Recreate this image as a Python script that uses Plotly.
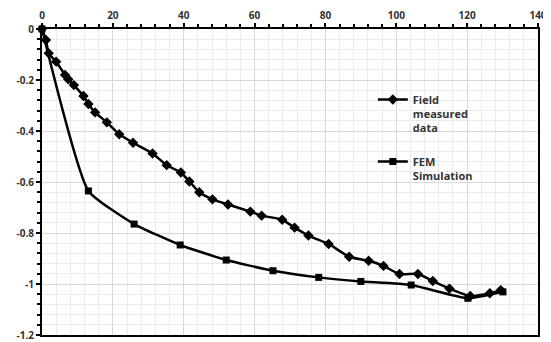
import plotly.graph_objects as go

# Field measured data (diamonds)
field_x = [0, 1.1, 1.9, 4.0, 6.5, 7.4, 9.0, 11.7, 13.1, 15.0, 18.3, 21.8, 25.7, 31.2, 35.2,
           39.2, 41.6, 44.4, 48.1, 52.5, 58.8, 62.0, 67.8, 71.3, 75.2, 80.9, 86.7, 92.2,
           96.4, 100.9, 106.1, 110.3, 115.0, 120.9, 126.4, 129.5]
field_y = [0, -0.043, -0.095, -0.128, -0.18, -0.197, -0.22, -0.263, -0.294, -0.327, -0.366,
           -0.413, -0.446, -0.488, -0.534, -0.563, -0.598, -0.640, -0.668, -0.688, -0.716,
           -0.732, -0.748, -0.779, -0.810, -0.843, -0.893, -0.909, -0.929, -0.961, -0.961,
           -0.988, -1.018, -1.047, -1.036, -1.024]

# FEM Simulation (squares)
fem_x = [0, 13.1, 26.0, 39.0, 52.0, 65.2, 78.1, 90.0, 104.2, 120.2, 130.1]
fem_y = [0, -0.635, -0.765, -0.847, -0.906, -0.948, -0.974, -0.990, -1.004, -1.056, -1.031]

x_tick_vals = [0, 20, 40, 60, 80, 100, 120, 140]
x_tick_labels = ["0", "20", "40", "60", "80", "100", "120", "140"]
y_tick_vals = [0, -0.2, -0.4, -0.6, -0.8, -1.0, -1.2]
y_tick_labels = ["0", "-0.2", "-0.4", "-0.6", "-0.8", "-1", "-1.2"]

series_names = ["Field<br>measured<br>data", "FEM<br>Simulation"]

FONT = "Open Sans"
TXT = "#333333"

def bold(labels):
    return ["<b>%s</b>" % s for s in labels]

fig = go.Figure()
fig.add_trace(go.Scatter(
    x=field_x, y=field_y, name="<b>%s</b>" % series_names[0], mode="lines+markers",
    legendgroup="a",
    line=dict(color="black", width=2.5, shape="spline", smoothing=0.6),
    marker=dict(symbol="diamond", size=8, color="black"),
    cliponaxis=False,
))
fig.add_trace(go.Scatter(
    x=fem_x, y=fem_y, name="<b>%s</b>" % series_names[1], mode="lines+markers",
    legendgroup="b",
    line=dict(color="black", width=2.5, shape="spline", smoothing=0.45),
    marker=dict(symbol="square", size=7, color="black"),
    cliponaxis=False,
))

# the page body has an 8px default margin, so the figure is sized to fit the window
fig.update_layout(
    width=543, height=334,
    margin=dict(l=34, r=13, t=21, b=7),
    paper_bgcolor="white", plot_bgcolor="white",
    font=dict(family=FONT, size=10, color=TXT),
    showlegend=True,
    legend=dict(
        x=0.667, y=0.814, xanchor="left", yanchor="top",
        bgcolor="rgba(0,0,0,0)", font=dict(family=FONT, size=11, color=TXT),
        valign="top", tracegroupgap=16, itemwidth=30,
    ),
    xaxis=dict(
        range=[0, 140], side="top", tickmode="array",
        tickvals=x_tick_vals, ticktext=bold(x_tick_labels),
        tickfont=dict(family=FONT, size=10, color=TXT),
        showline=True, linecolor="black", linewidth=2, mirror=True,
        ticks="outside", ticklen=4, tickcolor="black", tickwidth=1.5,
        showgrid=True, gridcolor="#d9d9d9", gridwidth=1,
        zeroline=False, automargin=False,
        minor=dict(dtick=4, showgrid=True, gridcolor="#ebebeb", gridwidth=1,
                   ticks="outside", ticklen=3, tickcolor="black"),
    ),
    yaxis=dict(
        range=[-1.2, 0], tickmode="array",
        tickvals=y_tick_vals, ticktext=bold(y_tick_labels),
        tickfont=dict(family=FONT, size=10, color=TXT),
        showline=True, linecolor="black", linewidth=2, mirror=True,
        ticks="outside", ticklen=4, tickcolor="black", tickwidth=1.5,
        showgrid=True, gridcolor="#d9d9d9", gridwidth=1,
        zeroline=False, automargin=False,
        minor=dict(dtick=0.04, tick0=0, showgrid=True, gridcolor="#ebebeb", gridwidth=1,
                   ticks="outside", ticklen=3, tickcolor="black"),
    ),
)

fig.write_html("out.html")
